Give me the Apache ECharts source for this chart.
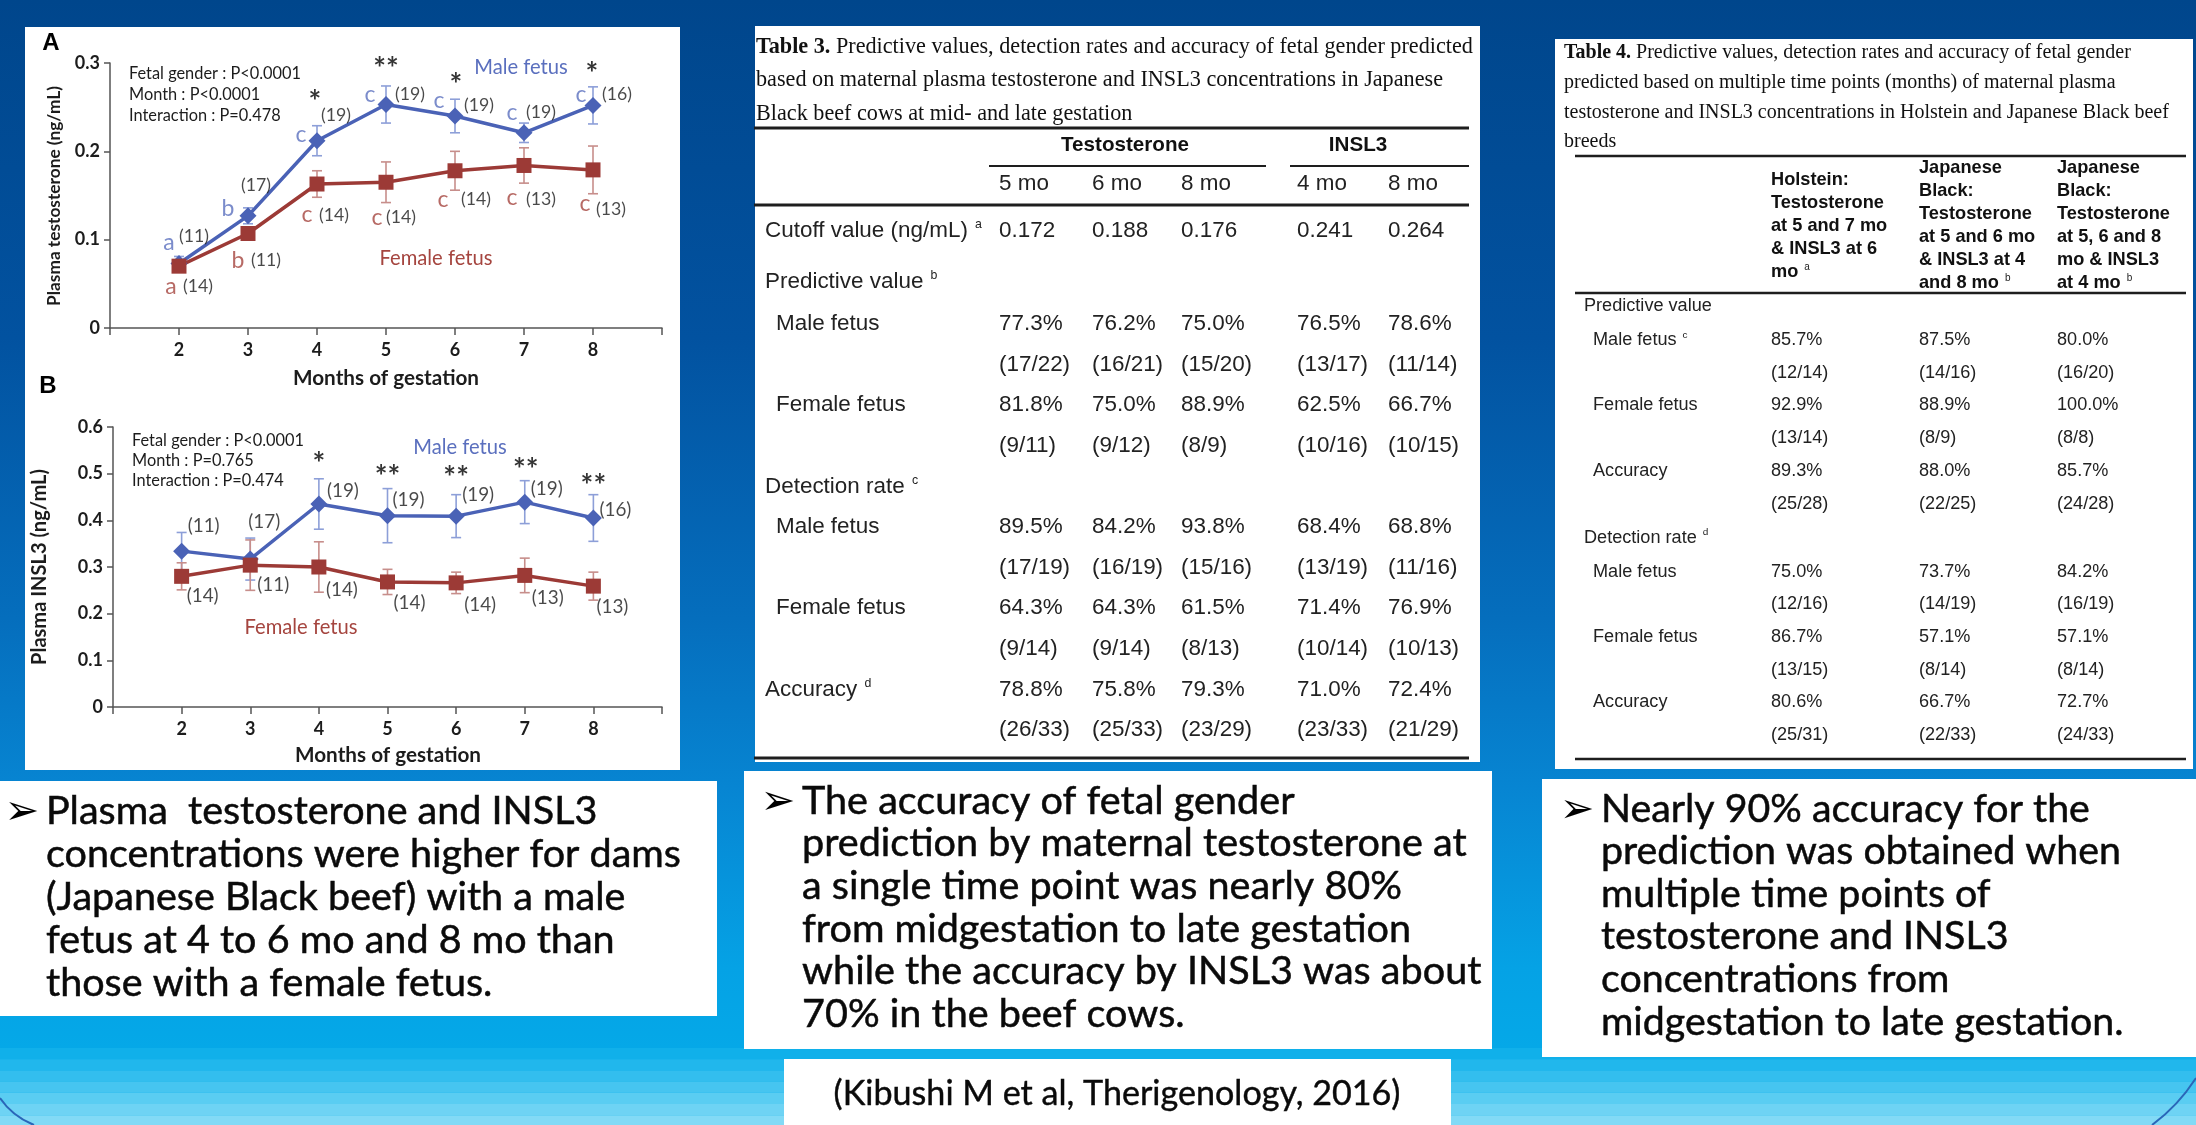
<!DOCTYPE html>
<html>
<head>
<meta charset="utf-8">
<script src="https://cdn.jsdelivr.net/npm/echarts@6/dist/echarts.min.js"></script>
<style>
  html, body { margin: 0; padding: 0; background: #00468c; }
  #main { width: 2196px; height: 1125px; }
</style>
</head>
<body>
<div id="main"></div>
<script>
// ---------- Figure data: months of gestation ----------
const months = [2, 3, 4, 5, 6, 7, 8];

// Panel A: plasma testosterone (ng/mL), mean and SE
const testoMale     = [0.073, 0.127, 0.212, 0.253, 0.240, 0.221, 0.252];
const testoMaleSE   = [0.008, 0.009, 0.017, 0.021, 0.019, 0.011, 0.021];
const testoFemale   = [0.070, 0.107, 0.163, 0.165, 0.178, 0.184, 0.179];
const testoFemaleSE = [0.005, 0.006, 0.015, 0.023, 0.022, 0.020, 0.027];
const testoMaleN     = [11, 17, 19, 19, 19, 19, 16];
const testoFemaleN   = [14, 11, 14, 14, 14, 13, 13];
const testoMaleLetters   = ['a', 'b', 'c', 'c', 'c', 'c', 'c'];
const testoFemaleLetters = ['a', 'b', 'c', 'c', 'c', 'c', 'c'];
const testoStars = ['', '', '*', '**', '*', '', '*'];
const testoStats = ['Fetal gender : P<0.0001', 'Month : P<0.0001', 'Interaction : P=0.478'];

// Panel B: plasma INSL3 (ng/mL), mean and SE
const insl3Male     = [0.334, 0.317, 0.435, 0.410, 0.409, 0.439, 0.405];
const insl3MaleSE   = [0.040, 0.045, 0.054, 0.058, 0.046, 0.046, 0.050];
const insl3Female   = [0.280, 0.304, 0.300, 0.268, 0.266, 0.282, 0.259];
const insl3FemaleSE = [0.029, 0.054, 0.054, 0.027, 0.023, 0.037, 0.030];
const insl3MaleN   = [11, 17, 19, 19, 19, 19, 16];
const insl3FemaleN = [14, 11, 14, 14, 14, 13, 13];
const insl3Stars = ['', '', '*', '**', '**', '**', '**'];
const insl3Stats = ['Fetal gender : P<0.0001', 'Month : P=0.765', 'Interaction : P=0.474'];

const testoTicks = ['0', '0.1', '0.2', '0.3'];
const insl3Ticks = ['0', '0.1', '0.2', '0.3', '0.4', '0.5', '0.6'];

// ---------- Table 3 ----------
const t3Title = [
  'Table 3. Predictive values, detection rates and accuracy of fetal gender predicted',
  'based on maternal plasma testosterone and INSL3 concentrations in Japanese',
  'Black beef cows at mid- and late gestation'
];
const t3Groups = ['Testosterone', 'INSL3'];
const t3Cols = ['5 mo', '6 mo', '8 mo', '4 mo', '8 mo'];
const t3Cutoff = ['0.172', '0.188', '0.176', '0.241', '0.264'];
const t3PredMale = ['77.3%', '76.2%', '75.0%', '76.5%', '78.6%'];
const t3PredMaleN = ['(17/22)', '(16/21)', '(15/20)', '(13/17)', '(11/14)'];
const t3PredFemale = ['81.8%', '75.0%', '88.9%', '62.5%', '66.7%'];
const t3PredFemaleN = ['(9/11)', '(9/12)', '(8/9)', '(10/16)', '(10/15)'];
const t3DetMale = ['89.5%', '84.2%', '93.8%', '68.4%', '68.8%'];
const t3DetMaleN = ['(17/19)', '(16/19)', '(15/16)', '(13/19)', '(11/16)'];
const t3DetFemale = ['64.3%', '64.3%', '61.5%', '71.4%', '76.9%'];
const t3DetFemaleN = ['(9/14)', '(9/14)', '(8/13)', '(10/14)', '(10/13)'];
const t3Acc = ['78.8%', '75.8%', '79.3%', '71.0%', '72.4%'];
const t3AccN = ['(26/33)', '(25/33)', '(23/29)', '(23/33)', '(21/29)'];

// ---------- Table 4 ----------
const t4Title = [
  'Table 4. Predictive values, detection rates and accuracy of fetal gender',
  'predicted based on multiple time points (months) of maternal plasma',
  'testosterone and INSL3 concentrations in Holstein and Japanese Black beef',
  'breeds'
];
const t4Headers = [
  ['Holstein:', 'Testosterone', 'at 5 and 7 mo', '& INSL3 at 6', 'mo'],
  ['Japanese', 'Black:', 'Testosterone', 'at 5 and 6 mo', '& INSL3 at 4', 'and 8 mo'],
  ['Japanese', 'Black:', 'Testosterone', 'at 5, 6 and 8', 'mo & INSL3', 'at 4 mo']
];
const t4HeaderNotes = ['a', 'b', 'b'];
const t4PredMale = ['85.7%', '87.5%', '80.0%'];
const t4PredMaleN = ['(12/14)', '(14/16)', '(16/20)'];
const t4PredFemale = ['92.9%', '88.9%', '100.0%'];
const t4PredFemaleN = ['(13/14)', '(8/9)', '(8/8)'];
const t4PredAcc = ['89.3%', '88.0%', '85.7%'];
const t4PredAccN = ['(25/28)', '(22/25)', '(24/28)'];
const t4DetMale = ['75.0%', '73.7%', '84.2%'];
const t4DetMaleN = ['(12/16)', '(14/19)', '(16/19)'];
const t4DetFemale = ['86.7%', '57.1%', '57.1%'];
const t4DetFemaleN = ['(13/15)', '(8/14)', '(8/14)'];
const t4DetAcc = ['80.6%', '66.7%', '72.7%'];
const t4DetAccN = ['(25/31)', '(22/33)', '(24/33)'];

// ---------- Summary notes ----------
const note1 = ['Plasma  testosterone and INSL3', 'concentrations were higher for dams',
  '(Japanese Black beef) with a male', 'fetus at 4 to 6 mo and 8 mo than', 'those with a female fetus.'];
const note2 = ['The accuracy of fetal gender', 'prediction by maternal testosterone at',
  'a single time point was nearly 80%', 'from midgestation to late gestation',
  'while the accuracy by INSL3 was about', '70% in the beef cows.'];
const note3 = ['Nearly 90% accuracy for the', 'prediction was obtained when', 'multiple time points of',
  'testosterone and INSL3', 'concentrations from', 'midgestation to late gestation.'];
const citation = '(Kibushi M et al, Therigenology, 2016)';

// ---------- Helpers ----------
const W = 2196, H = 1125;
const LATO = 'Lato', SANS = 'Liberation Sans', SERIF = 'Liberation Serif';
const measure = document.createElement('canvas').getContext('2d');
function fit(text, family, weight, width) {
  measure.font = weight + ' 100px "' + family + '"';
  return +(100 * width / measure.measureText(text).width).toFixed(2);
}
function txt(x, y, text, o = {}) {
  const el = {
    type: 'text', x: x, y: y, rotation: o.rot || 0, z: o.z || 30, silent: true,
    style: {
      text: text, fill: o.color || '#222', fontFamily: o.family || LATO,
      fontSize: o.size || 18, fontWeight: o.weight || 'normal',
      align: o.align || 'left', verticalAlign: 'middle',
      textAlign: o.align || 'left', textVerticalAlign: 'middle'
    }
  };
  if (o.stroke) { el.style.stroke = o.color || '#222'; el.style.lineWidth = o.stroke; }
  if (o.rich) el.style.rich = o.rich;
  return el;
}
function box(x, y, w, h, fill, z) {
  return { type: 'rect', silent: true, z: z === undefined ? -10 : z,
    shape: { x: x, y: y, width: w, height: h }, style: { fill: fill } };
}
function rule(x1, y1, x2, y2, w) {
  return { type: 'line', silent: true, z: 25, shape: { x1: x1, y1: y1, x2: x2, y2: y2 },
    style: { stroke: '#1e1e1e', lineWidth: w } };
}

const MALE = '#4a62b6', FEMALE = '#9c3a36';
const MALE_ERR = '#8d9fd8', FEMALE_ERR = '#c78e8b';
const MALE_TXT = '#5a6fbe', FEMALE_TXT = '#a5453f';
const INK = '#1c1c1c';

// ---------- Series builders ----------
function pairs(vals) { return months.map((m, i) => [m, vals[i]]); }

function lineSeries(idx, vals, color, symbol, size) {
  return {
    type: 'line', xAxisIndex: idx, yAxisIndex: idx, data: pairs(vals), z: 5, silent: true,
    symbol: symbol, symbolSize: size, showSymbol: true,
    lineStyle: { color: color, width: 3.5 }, itemStyle: { color: color, borderWidth: 0 }
  };
}

function errorSeries(idx, vals, se, color) {
  return {
    type: 'custom', xAxisIndex: idx, yAxisIndex: idx, z: 3, silent: true,
    data: months.map((m, i) => [m, vals[i] - se[i], vals[i] + se[i]]),
    renderItem: function (params, api) {
      const lo = api.coord([api.value(0), api.value(1)]);
      const hi = api.coord([api.value(0), api.value(2)]);
      const st = { stroke: color, lineWidth: 1.6 };
      return { type: 'group', children: [
        { type: 'line', shape: { x1: lo[0], y1: lo[1], x2: hi[0], y2: hi[1] }, style: st },
        { type: 'line', shape: { x1: hi[0] - 5, y1: hi[1], x2: hi[0] + 5, y2: hi[1] }, style: st },
        { type: 'line', shape: { x1: lo[0] - 5, y1: lo[1], x2: lo[0] + 5, y2: lo[1] }, style: st }
      ]};
    }
  };
}

// point annotations (group letters, sample sizes, significance stars)
function labelSeries(idx, vals, texts, offsets, st) {
  return {
    type: 'scatter', xAxisIndex: idx, yAxisIndex: idx, z: 6, silent: true,
    symbolSize: 1, itemStyle: { color: 'rgba(0,0,0,0)' },
    label: { position: 'inside', color: st.color, fontFamily: LATO, fontSize: st.size,
             fontWeight: st.weight || 'normal' },
    data: months.map((m, i) => ({
      value: [m, vals[i]],
      label: { show: !!texts[i] && !!offsets[i], formatter: String(texts[i]), offset: offsets[i] || [0, 0] }
    }))
  };
}
const paren = arr => arr.map(n => '(' + n + ')');

// label offsets in pixels from each point
const A_maleLetterOff = [[-10, -21], [-20, -7], [-16, -6], [-16, -10], [-16, -15], [-12, -20], [-12, -11]];
const A_maleNOff = [[15, -27], [8, -31], [19, -25], [24, -10], [24, -11], [17, -20], [24, -11]];
const A_starOff = [null, null, [-2, -38], [0, -35], [1, -31], null, [-1, -31]];
const A_femLetterOff = [[-8, 20], [-10, 27], [-10, 31], [-9, 35], [-12, 29], [-12, 32], [-8, 34]];
const A_femNOff = [[19, 20], [18, 27], [17, 31], [15, 35], [21, 29], [17, 34], [18, 39]];
const B_maleNOff = [[22, -25], [14, -37], [24, -13], [21, -16], [22, -21], [22, -13], [22, -8]];
const B_starOff = [null, null, [0, -40], [0, -38], [0, -38], [1, -32], [0, -32]];
const B_femNOff = [[21, 20], [23, 20], [23, 23], [22, 21], [24, 22], [23, 23], [19, 21]];

const nSizeA = fit('(19)', LATO, 'normal', 30);
const nSizeB = fit('(19)', LATO, 'normal', 32);

function xAxisFor(idx) {
  return {
    gridIndex: idx, type: 'value', min: 1, max: 9, interval: 1,
    axisLine: { lineStyle: { color: '#555', width: 1.5 } },
    axisTick: { length: 7, lineStyle: { color: '#555', width: 1.5 } },
    axisLabel: { formatter: v => (months.indexOf(v) >= 0 ? String(v) : ''), fontFamily: LATO,
                 fontWeight: 'bold', fontSize: 18, color: INK, margin: 13 },
    splitLine: { show: false }
  };
}
function yAxisFor(idx, ticks) {
  return {
    gridIndex: idx, type: 'value', min: 0, max: +ticks[ticks.length - 1], interval: 0.1,
    axisLine: { show: true, lineStyle: { color: '#555', width: 1.5 } },
    axisTick: { show: true, length: 6, lineStyle: { color: '#555', width: 1.5 } },
    axisLabel: { formatter: v => ticks[Math.round(v * 10)], fontFamily: LATO, fontWeight: 'bold',
                 fontSize: 18, color: INK, margin: 10 },
    splitLine: { show: false }
  };
}

// ---------- Graphic layer: slide background, panels, tables, notes ----------
const g = [];
g.push(box(0, 0, W, H, new echarts.graphic.LinearGradient(0, 0, 0, 1, [
  { offset: 0, color: '#00468c' }, { offset: 0.3, color: '#0252a0' },
  { offset: 0.55, color: '#056ebd' }, { offset: 0.7, color: '#0785d2' },
  { offset: 0.86, color: '#05a2e5' }, { offset: 1, color: '#05aeea' }]), -30));
const bandColors = ['#10b0ea', '#21b7ec', '#33beee', '#46c5f0', '#5acdf2', '#6ed3f4', '#82daf6'];
bandColors.forEach((c, i) => g.push(box(0, 1048 + i * 11.2, W, 11.2, c, -29)));
g.push({ type: 'bezierCurve', silent: true, z: -28, shape: { x1: 0, y1: 1098, x2: 34, y2: 1125, cpx1: 12, cpy1: 1116 },
  style: { stroke: '#2a66b8', lineWidth: 2, fill: null } });
g.push({ type: 'bezierCurve', silent: true, z: -28, shape: { x1: 2196, y1: 1078, x2: 2152, y2: 1125, cpx1: 2178, cpy1: 1106 },
  style: { stroke: '#2a66b8', lineWidth: 2, fill: null } });

// white panels
g.push(box(25, 27, 655, 743, '#ffffff'));
g.push(box(755, 26, 725, 736, '#ffffff'));
g.push(box(1555, 39, 638, 730, '#ffffff'));
g.push(box(0, 781, 717, 235, '#ffffff'));
g.push(box(744, 771, 748, 278, '#ffffff'));
g.push(box(1542, 779, 654, 278, '#ffffff'));
g.push(box(784, 1059, 667, 66, '#ffffff'));

// chart panel texts
g.push(txt(51, 43, 'A', { family: SANS, weight: 'bold', size: 24, color: '#000', align: 'center' }));
g.push(txt(48, 386, 'B', { family: SANS, weight: 'bold', size: 24, color: '#000', align: 'center' }));
const statSize = fit(testoStats[0], LATO, 'normal', 172);
testoStats.forEach((s, i) => g.push(txt(129, 74 + i * 21, s, { size: statSize, color: INK })));
insl3Stats.forEach((s, i) => g.push(txt(132, 441 + i * 20, s, { size: statSize, color: INK })));
const legendSize = fit('Female fetus', LATO, 'normal', 113);
g.push(txt(521, 67, 'Male fetus', { size: legendSize, color: MALE_TXT, align: 'center' }));
g.push(txt(436, 258, 'Female fetus', { size: legendSize, color: FEMALE_TXT, align: 'center' }));
g.push(txt(460, 447, 'Male fetus', { size: legendSize, color: MALE_TXT, align: 'center' }));
g.push(txt(301, 627, 'Female fetus', { size: legendSize, color: FEMALE_TXT, align: 'center' }));
const yTitleA = 'Plasma testosterone (ng/mL)', yTitleB = 'Plasma INSL3 (ng/mL)', xTitle = 'Months of gestation';
g.push(txt(54, 196, yTitleA, { size: fit(yTitleA, LATO, 'bold', 220), weight: 'bold', color: INK, align: 'center', rot: Math.PI / 2 }));
g.push(txt(40, 567, yTitleB, { size: fit(yTitleB, LATO, 'bold', 196), weight: 'bold', color: INK, align: 'center', rot: Math.PI / 2 }));
const xTitleSize = fit(xTitle, LATO, 'bold', 186);
g.push(txt(386, 378, xTitle, { size: xTitleSize, weight: 'bold', color: INK, align: 'center' }));
g.push(txt(388, 755, xTitle, { size: xTitleSize, weight: 'bold', color: INK, align: 'center' }));

// Table 3
const t3TitleSize = fit(t3Title[0], SERIF, 'normal', 714);
const boldLead = s => s.replace(/^(Table \d\.)/, '{b|$1}');
t3Title.forEach((s, i) => g.push(txt(756, 47 + i * 33.5, boldLead(s), {
  family: SERIF, size: t3TitleSize, color: '#111',
  rich: { b: { fontFamily: SERIF, fontWeight: 'bold', fontSize: t3TitleSize, fill: '#111', color: '#111' } } })));
g.push(rule(754, 128, 1469, 128, 3));
const t3Body = fit('Cutoff value (ng/mL)', SANS, 'normal', 203);
const t3Head = fit('Testosterone', SANS, 'bold', 128);
const t3ColX = [999, 1092, 1181, 1297, 1388];
g.push(txt(1125, 145, t3Groups[0], { family: SANS, weight: 'bold', size: t3Head, color: '#111', align: 'center' }));
g.push(txt(1358, 145, t3Groups[1], { family: SANS, weight: 'bold', size: t3Head, color: '#111', align: 'center' }));
g.push(rule(989, 166, 1266, 166, 2));
g.push(rule(1290, 166, 1469, 166, 2));
t3Cols.forEach((c, j) => g.push(txt(t3ColX[j], 184, c, { family: SANS, size: t3Body, color: '#222' })));
g.push(rule(754, 205, 1469, 205, 3));
const supRich = size => ({ s: { fontFamily: SANS, fontSize: size, fill: '#222', color: '#222', padding: [0, 0, size, 1] } });
const withSup = (label, sup) => sup ? label + ' {s|' + sup + '}' : label;
const t3Rows = [
  { label: 'Cutoff value (ng/mL)', sup: 'a', cells: t3Cutoff, y: 231 },
  { label: 'Predictive value', sup: 'b', y: 282 },
  { label: 'Male fetus', indent: true, cells: t3PredMale, y: 324 },
  { cells: t3PredMaleN, y: 364.6 },
  { label: 'Female fetus', indent: true, cells: t3PredFemale, y: 405.2 },
  { cells: t3PredFemaleN, y: 445.8 },
  { label: 'Detection rate', sup: 'c', y: 486.4 },
  { label: 'Male fetus', indent: true, cells: t3DetMale, y: 527 },
  { cells: t3DetMaleN, y: 567.6 },
  { label: 'Female fetus', indent: true, cells: t3DetFemale, y: 608.2 },
  { cells: t3DetFemaleN, y: 648.8 },
  { label: 'Accuracy', sup: 'd', cells: t3Acc, y: 689.4 },
  { cells: t3AccN, y: 730 }
];
t3Rows.forEach(r => {
  if (r.label) g.push(txt(r.indent ? 776 : 765, r.y, withSup(r.label, r.sup),
    { family: SANS, size: t3Body, color: '#222', rich: supRich(t3Body * 0.55) }));
  (r.cells || []).forEach((c, j) => g.push(txt(t3ColX[j], r.y, c, { family: SANS, size: t3Body, color: '#222' })));
});
g.push(rule(754, 758, 1469, 758, 3));

// Table 4
const t4TitleSize = fit(t4Title[2], SERIF, 'normal', 605);
t4Title.forEach((s, i) => g.push(txt(1564, 53 + i * 29.7, boldLead(s), {
  family: SERIF, size: t4TitleSize, color: '#111',
  rich: { b: { fontFamily: SERIF, fontWeight: 'bold', fontSize: t4TitleSize, fill: '#111', color: '#111' } } })));
g.push(rule(1575, 156, 2186, 156, 2.5));
const t4Body = fit('Predictive value', SANS, 'normal', 128);
const t4Head = fit('Testosterone', SANS, 'bold', 113);
const t4ColX = [1771, 1919, 2057];
const t4HeadTop = [180, 168.3, 168.3];
t4Headers.forEach((lines, j) => lines.forEach((s, k) => {
  const last = k === lines.length - 1;
  g.push(txt(t4ColX[j], t4HeadTop[j] + k * 23, last ? withSup(s, t4HeaderNotes[j]) : s, {
    family: SANS, weight: 'bold', size: t4Head, color: '#111', rich: supRich(t4Head * 0.55) }));
}));
g.push(rule(1575, 293, 2186, 293, 2.5));
const t4Rows = [
  { label: 'Predictive value', y: 306 },
  { label: 'Male fetus', sup: 'c', indent: true, cells: t4PredMale, y: 340 },
  { cells: t4PredMaleN, y: 372.7 },
  { label: 'Female fetus', indent: true, cells: t4PredFemale, y: 405.4 },
  { cells: t4PredFemaleN, y: 438.1 },
  { label: 'Accuracy', indent: true, cells: t4PredAcc, y: 470.8 },
  { cells: t4PredAccN, y: 503.5 },
  { label: 'Detection rate', sup: 'd', y: 537.5 },
  { label: 'Male fetus', indent: true, cells: t4DetMale, y: 571.5 },
  { cells: t4DetMaleN, y: 604 },
  { label: 'Female fetus', indent: true, cells: t4DetFemale, y: 637 },
  { cells: t4DetFemaleN, y: 669.5 },
  { label: 'Accuracy', indent: true, cells: t4DetAcc, y: 702 },
  { cells: t4DetAccN, y: 734.5 }
];
t4Rows.forEach(r => {
  if (r.label) g.push(txt(r.indent ? 1593 : 1584, r.y, withSup(r.label, r.sup),
    { family: SANS, size: t4Body, color: '#222', rich: supRich(t4Body * 0.55) }));
  (r.cells || []).forEach((c, j) => g.push(txt(t4ColX[j], r.y, c, { family: SANS, size: t4Body, color: '#222' })));
});
g.push(rule(1575, 759, 2186, 759, 2.5));

// Summary notes with arrow bullets
function note(lines, x, y0, step, size, bulletX) {
  g.push(txt(bulletX, y0 + 2, '\u27A2', { family: 'DejaVu Sans', size: size * 1.05, color: '#000', align: 'center' }));
  lines.forEach((s, i) => g.push(txt(x, y0 + i * step, s, { size: size, color: '#0a0a0a', stroke: 0.5 })));
}
note(note1, 46, 811, 43, fit(note1[1], LATO, 'normal', 635), 22);
note(note2, 802, 801, 42.6, fit(note2[1], LATO, 'normal', 665), 778);
note(note3, 1601, 809, 42.6, fit(note3[1], LATO, 'normal', 520), 1577);
g.push(txt(1117, 1094, citation, { size: fit(citation, LATO, 'normal', 567), color: '#0a0a0a', align: 'center', stroke: 0.4 }));

// ---------- Chart ----------
const chart = echarts.init(document.getElementById('main'), null, { renderer: 'canvas', width: W, height: H });
chart.setOption({
  animation: false,
  grid: [
    { left: 110, top: 63, width: 552, height: 265, outerBoundsMode: 'none' },
    { left: 113, top: 427, width: 549, height: 280, outerBoundsMode: 'none' }
  ],
  xAxis: [xAxisFor(0), xAxisFor(1)],
  yAxis: [yAxisFor(0, testoTicks), yAxisFor(1, insl3Ticks)],
  graphic: { elements: g },
  series: [
    errorSeries(0, testoMale, testoMaleSE, MALE_ERR),
    errorSeries(0, testoFemale, testoFemaleSE, FEMALE_ERR),
    lineSeries(0, testoMale, MALE, 'diamond', 17),
    lineSeries(0, testoFemale, FEMALE, 'rect', 15),
    labelSeries(0, testoMale, testoMaleLetters, A_maleLetterOff, { color: MALE_TXT, size: 23 }),
    labelSeries(0, testoMale, paren(testoMaleN), A_maleNOff, { color: INK, size: nSizeA }),
    labelSeries(0, testoMale, testoStars, A_starOff, { color: '#000', size: 30, weight: 'bold' }),
    labelSeries(0, testoFemale, testoFemaleLetters, A_femLetterOff, { color: FEMALE_TXT, size: 23 }),
    labelSeries(0, testoFemale, paren(testoFemaleN), A_femNOff, { color: INK, size: nSizeA }),

    errorSeries(1, insl3Male, insl3MaleSE, MALE_ERR),
    errorSeries(1, insl3Female, insl3FemaleSE, FEMALE_ERR),
    lineSeries(1, insl3Male, MALE, 'diamond', 17),
    lineSeries(1, insl3Female, FEMALE, 'rect', 15),
    labelSeries(1, insl3Male, paren(insl3MaleN), B_maleNOff, { color: INK, size: nSizeB }),
    labelSeries(1, insl3Male, insl3Stars, B_starOff, { color: '#000', size: 30, weight: 'bold' }),
    labelSeries(1, insl3Female, paren(insl3FemaleN), B_femNOff, { color: INK, size: nSizeB })
  ]
});
</script>
</body>
</html>
